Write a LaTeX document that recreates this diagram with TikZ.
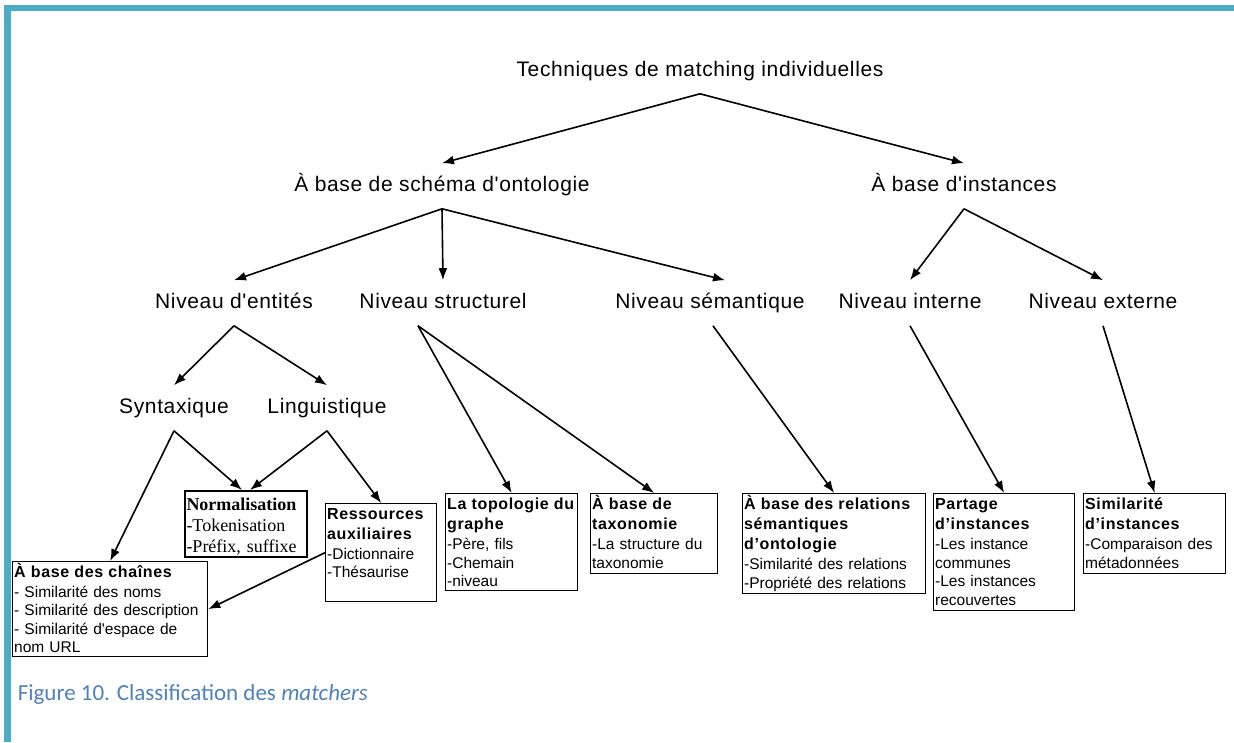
\documentclass[tikz,border=0pt]{standalone}
\usepackage{fontspec}
\usetikzlibrary{arrows.meta}

\newfontfamily\treefont{Liberation Sans}[LetterSpace=3]
\newfontfamily\boxfont{Liberation Sans}
\newfontfamily\boxbf{Liberation Sans}[LetterSpace=4]
\newfontfamily\timesfont{Liberation Serif}
\newfontfamily\capfont{Carlito}

\definecolor{frameteal}{HTML}{4BACC6}
\definecolor{capblue}{HTML}{4F81BD}

% bold title line of a box
\newcommand{\hd}[1]{{\boxbf\bfseries\fontsize{16}{18.5}\selectfont #1}}

\begin{document}
\begin{tikzpicture}[x=1pt, y=-1pt,
    >={Latex[length=12pt,width=9pt]},
    line width=1.6pt,
    tree/.style={font=\treefont\fontsize{21}{25}\selectfont, inner xsep=0pt, inner ysep=12pt, text height=15pt, text depth=5pt},
    leaf/.style={draw, line width=1.3pt, anchor=north west, align=left, inner xsep=1.5pt, inner ysep=2pt, text height=14pt, font=\boxfont\fontsize{15.5}{18.5}\selectfont}]
    % Frame
        \useasboundingbox (0,0) rectangle (1234,742);
        \fill[white] (0,0) rectangle (1234,742);
        \fill[frameteal] (4,5) rectangle (1234,11);
        \fill[frameteal] (4,5) rectangle (10.5,742);
    % Tree labels
        \node[tree] (top) at (700,71) {Techniques de matching individuelles};
        \node[tree] (schema) at (442,186) {À base de schéma d'ontologie};
        \node[tree] (inst) at (964,186) {À base d'instances};
        \node[tree] (entites) at (234,303) {Niveau d'entités};
        \node[tree] (struct) at (443,303) {Niveau structurel};
        \node[tree] (seman) at (710,303) {Niveau sémantique};
        \node[tree] (interne) at (910,303) {Niveau interne};
        \node[tree] (externe) at (1103,303) {Niveau externe};
        \node[tree] (synt) at (174,408) {Syntaxique};
        \node[tree] (ling) at (327,408) {Linguistique};
    % Boxes
        \node[leaf, line width=2pt, text width=119pt, text height=17pt, text depth=45pt, font=\timesfont\fontsize{18}{21}\selectfont] (norm) at (184,490)
            {\textbf{Normalisation}\\-Tokenisation\\-Préfix, suffixe};
        \node[leaf, text width=108pt, text depth=80pt] (ress) at (325,503)
            {\hd{Ressources}\\[1.5pt]\hd{auxiliaires}\\[1pt]-Dictionnaire\\-Thésaurise};
        \node[leaf, text width=192pt, text depth=77pt] (chaines) at (12,561)
            {\hd{À base des chaînes}\\[1pt]- Similarité des noms\\- Similarité des description\\- Similarité d'espace de\\nom URL};
        \node[leaf, text width=129pt, text depth=79pt] (topo) at (445,493)
            {\hd{La topologie du}\\[1.5pt]\hd{graphe}\\[1.5pt]-Père, fils\\-Chemain\\-niveau};
        \node[leaf, text width=124pt, text depth=62pt] (taxo) at (590,493)
            {\hd{À base de}\\[1.5pt]\hd{taxonomie}\\[1.5pt]-La structure du\\taxonomie};
        \node[leaf, text width=180pt, text depth=82pt] (rel) at (742,493)
            {\hd{À base des relations}\\[1.5pt]\hd{sémantiques}\\[1.5pt]\hd{d’ontologie}\\[1.5pt]-Similarité des relations\\-Propriété des relations};
        \node[leaf, text width=138pt, text depth=99pt] (part) at (933,493)
            {\hd{Partage}\\[1.5pt]\hd{d’instances}\\[1.5pt]-Les instance\\communes\\-Les instances\\recouvertes};
        \node[leaf, text width=139pt, text depth=62pt] (simi) at (1083,493)
            {\hd{Similarité}\\[1.5pt]\hd{d’instances}\\[1.5pt]-Comparaison des\\métadonnées};
    % Draw arrows
        \draw[->] (top.south) -- (schema.north);
        \draw[->] (top.south) -- (inst.north);
        \draw[->] (schema.south) -- (entites.north);
        \draw[->] (schema.south) -- (struct.north);
        \draw[->] (schema.south) -- ([xshift=15pt]seman.north);
        \draw[->] (inst.south) -- (interne.north);
        \draw[->] (inst.south) -- (externe.north);
        \draw[->] (entites.south) -- (synt.north);
        \draw[->] (entites.south) -- (ling.north);
        \draw[->] (synt.south) -- (chaines.north);
        \draw[->] (synt.south) -- ([xshift=-4pt]norm.north);
        \draw[->] (ling.south) -- ([xshift=4pt]norm.north);
        \draw[->] (ling.south) -- (ress.north);
        \draw[->] (ress.west) -- (chaines.east);
        \draw[->] ([xshift=-25pt]struct.south) -- (topo.north);
        \draw[->] ([xshift=-25pt]struct.south) -- (taxo.north);
        \draw[->] ([xshift=3pt]seman.south) -- (rel.north);
        \draw[->] (interne.south) -- (part.north);
        \draw[->] (externe.south) -- (simi.north);
    % Caption
        \node[anchor=base west, inner sep=0pt, text=capblue, font=\capfont\fontsize{23}{27}\selectfont] (caption) at (17,700)
            {Figure 10. Classification des \textit{matchers}};
    \end{tikzpicture}
\end{document}
